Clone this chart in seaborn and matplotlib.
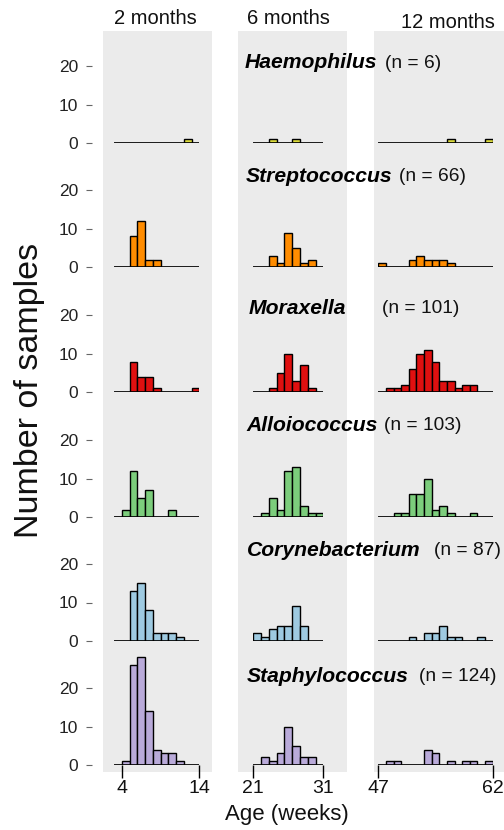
import numpy as np
import pandas as pd
import matplotlib
matplotlib.use("Agg")
import matplotlib.pyplot as plt
import seaborn as sns
from matplotlib.patches import Rectangle

sns.set_theme(style="white")
plt.rcParams["font.family"] = ["Liberation Sans", "DejaVu Sans"]

# ---------------- data ----------------
columns = ["2 months", "6 months", "12 months"]
genera = ["Haemophilus", "Streptococcus", "Moraxella",
          "Alloiococcus", "Corynebacterium", "Staphylococcus"]
n_labels = ["(n = 6)", "(n = 66)", "(n = 101)", "(n = 103)", "(n = 87)", "(n = 124)"]
colors = ["#dcdc3c", "#ff8c00", "#e01010", "#7ccd7c", "#9ecae1", "#b9aad9"]

# bin edges (weeks of age) for each sampling time
edges_2m = [3, 4, 5, 6, 7, 8, 9, 10, 11, 12, 13, 14]
edges_6m = [21, 22.11, 23.22, 24.33, 25.44, 26.56, 27.67, 28.78, 29.89, 31]
edges_12m = [47, 48, 49, 50, 51, 52, 53, 54, 55, 56, 57, 58, 59, 60, 61, 62]

# counts per bin
counts_2m = {
    "Haemophilus":     [0, 0, 0, 0, 0, 0, 0, 0, 0, 1, 0],
    "Streptococcus":   [0, 0, 8, 12, 2, 2, 0, 0, 0, 0, 0],
    "Moraxella":       [0, 0, 8, 4, 4, 1, 0, 0, 0, 0, 1],
    "Alloiococcus":    [0, 2, 12, 5, 7, 0, 0, 2, 0, 0, 0],
    "Corynebacterium": [0, 0, 13, 15, 8, 2, 2, 2, 1, 0, 0],
    "Staphylococcus":  [0, 1, 26, 28, 14, 4, 3, 3, 1, 0, 0],
}
counts_6m = {
    "Haemophilus":     [0, 0, 1, 0, 0, 1, 0, 0, 0],
    "Streptococcus":   [0, 0, 3, 1, 9, 5, 1, 2, 0],
    "Moraxella":       [0, 0, 1, 5, 10, 3, 7, 1, 0],
    "Alloiococcus":    [0, 1, 5, 2, 12, 13, 3, 1, 1],
    "Corynebacterium": [2, 1, 3, 4, 4, 9, 4, 0, 0],
    "Staphylococcus":  [0, 2, 1, 3, 10, 5, 2, 2, 0],
}
counts_12m = {
    "Haemophilus":     [0, 0, 0, 0, 0, 0, 0, 0, 0, 1, 0, 0, 0, 0, 1],
    "Streptococcus":   [1, 0, 0, 0, 2, 3, 2, 2, 2, 1, 0, 0, 0, 0, 0],
    "Moraxella":       [0, 1, 1, 2, 6, 10, 11, 8, 3, 3, 1, 2, 2, 0, 0],
    "Alloiococcus":    [0, 0, 1, 1, 6, 6, 10, 2, 3, 1, 0, 0, 1, 0, 0],
    "Corynebacterium": [0, 0, 0, 0, 1, 0, 2, 2, 4, 1, 1, 0, 0, 1, 0],
    "Staphylococcus":  [0, 1, 1, 0, 0, 0, 4, 3, 0, 1, 0, 1, 1, 0, 1],
}
x_ticks = [[4, 14], [21, 31], [47, 62]]
y_ticks = [0, 10, 20]

all_edges = [edges_2m, edges_6m, edges_12m]
all_counts = [counts_2m, counts_6m, counts_12m]

# ---------------- layout (pixels) ----------------
W, H = 504, 830
fig = plt.figure(figsize=(W / 100, H / 100), dpi=100)
fig.patch.set_facecolor("white")

col_px = [(114.3, 199.3), (253.3, 323.3), (378.3, 492.7)]
xlims = [(3, 14), (21, 31), (47, 62)]
row_base = [143.3, 267.3, 392.3, 517.3, 641.0, 765.0]
px_per_count = 3.85
ymax = 30
ax_h = ymax * px_per_count

# grey strips behind each column
for x0, x1 in [(103, 211.7), (238.3, 346.7), (374, 504)]:
    fig.add_artist(Rectangle((x0 / W, 1 - 772 / H), (x1 - x0) / W, (772 - 31) / H,
                             transform=fig.transFigure, facecolor="#ebebeb",
                             edgecolor="none", zorder=-5))

for r, g in enumerate(genera):
    for c in range(3):
        x0, x1 = col_px[c]
        bottom = 1 - row_base[r] / H
        ax = fig.add_axes([x0 / W, bottom, (x1 - x0) / W, ax_h / H])
        ax.set_facecolor("none")
        edges = all_edges[c]
        cnt = all_counts[c][g]
        centers = [(edges[i] + edges[i + 1]) / 2 for i in range(len(cnt))]
        df = pd.DataFrame({"age": centers, "n": cnt})
        df = df[df["n"] > 0]
        sns.histplot(data=df, x="age", weights="n", bins=edges, ax=ax,
                     color=colors[r], edgecolor="black", linewidth=1.0,
                     alpha=1.0, stat="count")
        ax.axhline(0, color="black", lw=1.2, zorder=3)
        ax.set_xlim(*xlims[c])
        ax.set_ylim(0, ymax)
        ax.set_xlabel("")
        ax.set_ylabel("")
        for s in ax.spines.values():
            s.set_visible(False)
        if c == 0:
            ax.spines["left"].set_position(("outward", 16))
            ax.set_yticks(y_ticks)
            ax.tick_params(axis="y", left=True, length=4, width=0.8,
                           color="#666666", pad=6, labelsize=12.5,
                           labelcolor="#222222")
        else:
            ax.set_yticks([])
        if r == len(genera) - 1:
            ax.set_xticks(x_ticks[c])
            ax.tick_params(axis="x", bottom=True, length=9, width=1.0,
                           color="black", pad=2, labelsize=14,
                           labelcolor="#111111")
        else:
            ax.set_xticks([])

# genus labels
label_pos = [(245, 63, 385), (245.7, 176.7, 399), (248.3, 308, 381.7),
             (246.7, 425, 384), (246.7, 550, 434), (246.7, 676.7, 419)]
for (gx, gy, nx), g, nl in zip(label_pos, genera, n_labels):
    fig.text(gx / W, 1 - gy / H, g, fontsize=15.2, fontweight="bold",
             fontstyle="italic", ha="left", va="center", color="black")
    fig.text(nx / W, 1 - gy / H, nl, fontsize=13.8, ha="left", va="center",
             color="#111111")

# column titles
for (cx, cy), t in zip([(155, 18), (288.3, 19), (447.5, 22)], columns):
    fig.text(cx / W, 1 - cy / H, t, fontsize=14.5, ha="center", va="center",
             color="#111111")

fig.text(30 / W, 1 - 390 / H, "Number of samples", rotation=90, fontsize=24.5,
         ha="center", va="center", color="#111111")
fig.text(287 / W, 1 - 814 / H, "Age (weeks)", fontsize=16, ha="center",
         va="center", color="#111111")

fig.savefig("out.png", dpi=100)
